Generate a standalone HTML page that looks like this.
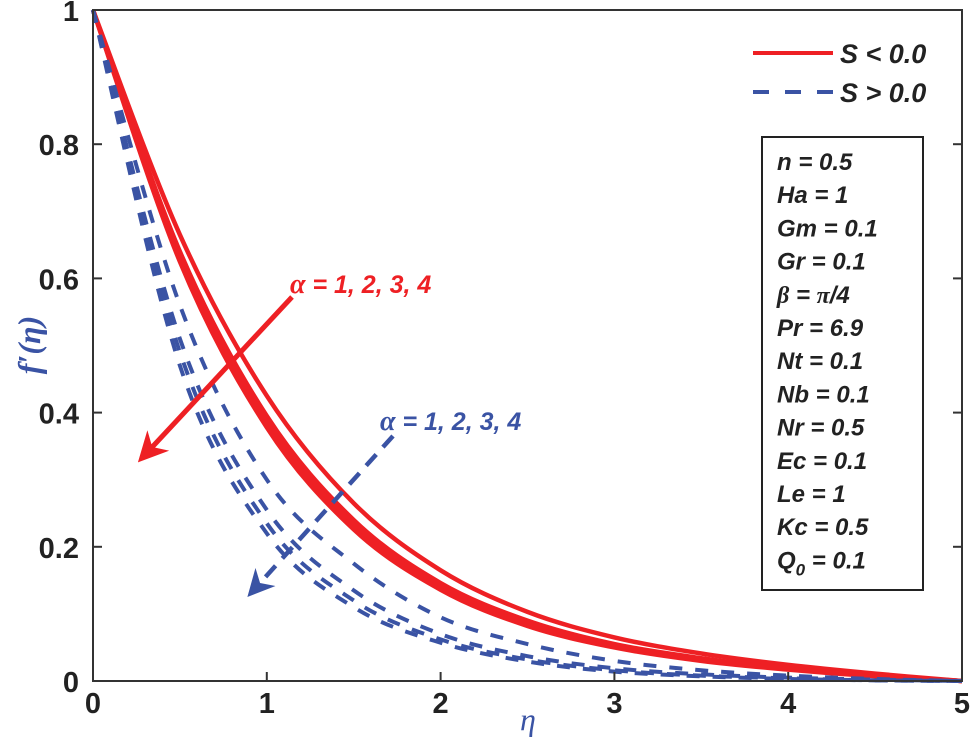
<!DOCTYPE html>
<html><head><meta charset="utf-8"><style>
body{margin:0;background:#fff}
svg{display:block;font-family:"Liberation Sans",sans-serif}
</style></head><body>
<svg id="chart" width="971" height="740" viewBox="0 0 971 740">
<defs>
<marker id="ar" viewBox="0 0 10 10" refX="8" refY="5" markerWidth="6" markerHeight="6" orient="auto"><path d="M0,0L10,5L0,10L3,5z" fill="#ee2024"/></marker>
<marker id="ab" viewBox="0 0 10 10" refX="8" refY="5" markerWidth="6" markerHeight="6" orient="auto"><path d="M0,0L10,5L0,10L3,5z" fill="#3a53a4"/></marker>
</defs>
<g id="plot"></g>
<rect x="93" y="10" width="869" height="671" fill="none" stroke="#333" stroke-width="2"/>
<g id="ticks"></g>
<text x="520" y="730" font-family="Liberation Serif,serif" font-style="italic" font-size="32" fill="#3a53a4">η</text>
<text transform="translate(40,345) rotate(-90)" text-anchor="middle" font-family="Liberation Serif,serif" font-style="italic" font-weight="bold" font-size="32" fill="#3a53a4">f′(η)</text>
<g>
<line x1="753" y1="53" x2="833" y2="53" stroke="#ee2024" stroke-width="4"/>
<text x="840" y="63" font-size="27" font-weight="bold" font-style="italic" fill="#222">S &lt; 0.0</text>
<line x1="753" y1="92" x2="833" y2="92" stroke="#3a53a4" stroke-width="4" stroke-dasharray="16,16"/>
<text x="840" y="102" font-size="27" font-weight="bold" font-style="italic" fill="#222">S &gt; 0.0</text>
</g>
<rect x="762" y="137" width="161" height="453" fill="#fff" stroke="#222" stroke-width="2"/>
<g id="params" font-size="24" font-weight="bold" font-style="italic" fill="#222"></g>
<line x1="292" y1="297" x2="142" y2="458" stroke="#ee2024" stroke-width="5" marker-end="url(#ar)"/>
<text x="290" y="293" font-size="25" font-weight="bold" font-style="italic" fill="#ee2024"><tspan font-family="Liberation Serif,serif" font-size="28">α</tspan> = 1, 2, 3, 4</text>
<line x1="393" y1="436" x2="251" y2="593" stroke="#3a53a4" stroke-width="4.5" stroke-dasharray="15,10" marker-end="url(#ab)"/>
<text x="380" y="430" font-size="25" font-weight="bold" font-style="italic" fill="#3a53a4"><tspan font-family="Liberation Serif,serif" font-size="28">α</tspan> = 1, 2, 3, 4</text>
</svg>
<script>
const etas=[0,0.5,1,1.5,2,2.5,3,3.5,4,4.5,5];
const red1=[1,.665,.425,.265,.165,.103,.065,.041,.024,.011,0];
const red2=[1,.640,.395,.240,.146,.090,.055,.034,.019,.008,0];
const red3=[1,.632,.386,.233,.140,.085,.052,.032,.018,.008,0];
const red4=[1,.625,.378,.226,.136,.082,.050,.030,.017,.007,0];
const blue1=[1,.56,.30,.175,.095,.055,.030,.016,.008,.003,0];
const blue2=[1,.51,.255,.135,.070,.037,.019,.010,.005,.002,0];
const blue3=[1,.49,.235,.120,.062,.032,.016,.008,.004,.001,0];
const blue4=[1,.47,.22,.11,.057,.029,.014,.007,.003,.001,0];
const xTicks=[0,1,2,3,4,5];
const yTicks=[0,0.2,0.4,0.6,0.8,1];
const yTickLabels=["0","0.2","0.4","0.6","0.8","1"];
const params=["n = 0.5","Ha = 1","Gm = 0.1","Gr = 0.1","β = π/4","Pr = 6.9","Nt = 0.1","Nb = 0.1","Nr = 0.5","Ec = 0.1","Le = 1","Kc = 0.5","Q0 = 0.1"];
const NS="http://www.w3.org/2000/svg";
const X=v=>93+v/5*869, Y=v=>681-v*671;
function path(ys){
  const p=etas.map((e,i)=>[X(e),Y(ys[i])]);
  let d="M"+p[0][0]+","+p[0][1];
  for(let i=0;i<p.length-1;i++){
    const a=p[i-1]||p[i],b=p[i],c=p[i+1],e=p[i+2]||c;
    d+=" C"+(b[0]+(c[0]-a[0])/6)+","+(b[1]+(c[1]-a[1])/6)+" "+(c[0]-(e[0]-b[0])/6)+","+(c[1]-(e[1]-b[1])/6)+" "+c[0]+","+c[1];
  }
  return d;
}
const plot=document.getElementById('plot');
[[red1,'red-curve-1'],[red2,'red-curve-2'],[red3,'red-curve-3'],[red4,'red-curve-4']].forEach(([s,n])=>{
  const el=document.createElementNS(NS,'path');
  el.setAttribute('d',path(s));el.setAttribute('fill','none');el.setAttribute('stroke','#ee2024');el.setAttribute('stroke-width','4.5');
  
  
  plot.appendChild(el);
});
[[blue1,'blue-curve-1'],[blue2,'blue-curve-2'],[blue3,'blue-curve-3'],[blue4,'blue-curve-4']].forEach(([s,n])=>{
  const el=document.createElementNS(NS,'path');
  el.setAttribute('d',path(s));el.setAttribute('fill','none');el.setAttribute('stroke','#3a53a4');el.setAttribute('stroke-width','4');el.setAttribute('stroke-dasharray','13,13');
  
  
  plot.appendChild(el);
});
const tk=document.getElementById('ticks');
xTicks.forEach(v=>{
  const l=document.createElementNS(NS,'line');
  l.setAttribute('x1',X(v));l.setAttribute('x2',X(v));l.setAttribute('y1',681);l.setAttribute('y2',672);l.setAttribute('stroke','#333');l.setAttribute('stroke-width','2');
  
  
  tk.appendChild(l);
  const t=document.createElementNS(NS,'text');
  t.setAttribute('x',X(v));t.setAttribute('y',713);t.setAttribute('text-anchor','middle');t.setAttribute('font-size','29');t.setAttribute('font-weight','bold');t.setAttribute('fill','#222');
  t.textContent=v;
  
  
  tk.appendChild(t);
});
yTicks.forEach((v,i)=>{
  const l=document.createElementNS(NS,'line');
  l.setAttribute('x1',93);l.setAttribute('x2',102);l.setAttribute('y1',Y(v));l.setAttribute('y2',Y(v));l.setAttribute('stroke','#333');l.setAttribute('stroke-width','2');
  
  
  tk.appendChild(l);
  const l2=document.createElementNS(NS,'line');
  l2.setAttribute('x1',962);l2.setAttribute('x2',953);l2.setAttribute('y1',Y(v));l2.setAttribute('y2',Y(v));l2.setAttribute('stroke','#333');l2.setAttribute('stroke-width','2');
  
  
  tk.appendChild(l2);
  const t=document.createElementNS(NS,'text');
  t.setAttribute('x',79);t.setAttribute('y',Y(v)+11);t.setAttribute('text-anchor','end');t.setAttribute('font-size','29');t.setAttribute('font-weight','bold');t.setAttribute('fill','#222');
  t.textContent=yTickLabels[i];
  
  
  tk.appendChild(t);
});
const pg=document.getElementById('params');
params.forEach((p,i)=>{
  const t=document.createElementNS(NS,'text');
  t.setAttribute('x',777);t.setAttribute('y',170+i*33.2);
  if(p.startsWith("Q0")){t.innerHTML='Q<tspan font-size="17" dy="7">0</tspan><tspan dy="-7"> = 0.1</tspan>';}
  else if(p.startsWith("β")){t.innerHTML='<tspan font-family="Liberation Serif,serif">β</tspan> = <tspan font-family="Liberation Serif,serif">π</tspan>/4';}
  else t.textContent=p;
  
  
  pg.appendChild(t);
});
</script>
</body></html>
